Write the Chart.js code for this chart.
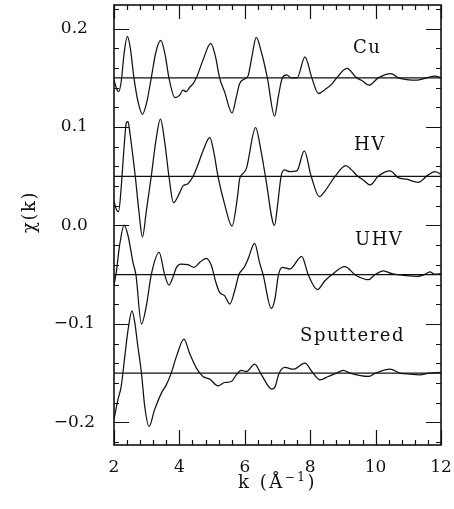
<!DOCTYPE html>
<html>
<head>
<meta charset="utf-8">
<script src="https://cdn.jsdelivr.net/npm/chart.js@4/dist/chart.umd.min.js"></script>
<style>
  html, body { margin: 0; padding: 0; background: #fff; }
  #wrap { width: 454px; height: 509px; }
</style>
</head>
<body>
<div id="wrap"><canvas id="chart" width="454" height="509"></canvas></div>
<script>
// EXAFS oscillations chi(k) for four samples, each shifted by a constant offset.
const sampleNames = ['Cu', 'HV', 'UHV', 'Sputtered'];
const sampleOffsets = [0.15, 0.05, -0.05, -0.15];

const kCu = [2.0, 2.07, 2.14, 2.22, 2.31, 2.41, 2.5, 2.61, 2.74, 2.87, 3.0, 3.14, 3.28, 3.43, 3.56, 3.68,
  3.86, 4.01, 4.11, 4.21, 4.31, 4.42, 4.52, 4.72, 4.96, 5.1, 5.23, 5.38, 5.61, 5.75, 5.84, 6.0, 6.1, 6.22,
  6.35, 6.5, 6.69, 6.91, 7.03, 7.15, 7.28, 7.42, 7.6, 7.84, 8.05, 8.25, 8.45, 8.66, 8.81, 9.12, 9.42, 9.59,
  9.8, 10.08, 10.47, 10.69, 10.95, 11.25, 11.56, 11.82, 12.0];
const chiCu = [-0.002, -0.010, -0.014, -0.004, 0.025, 0.042, 0.030, 0.0, -0.025, -0.037, -0.025, 0.0, 0.026,
  0.038, 0.024, 0.0, -0.020, -0.0176, -0.0125, -0.014, -0.0098, -0.0058, 0.0, 0.018, 0.035, 0.022, 0.0,
  -0.014, -0.0356, -0.018, -0.006, -0.001, 0.002, 0.022, 0.041, 0.027, 0.0, -0.039, -0.018, 0.0, 0.003,
  0.0, 0.0, 0.0213, 0.0, -0.0159, -0.012, -0.0064, 0.0, 0.0095, 0.0, -0.003, -0.0075, 0.0, 0.0044, 0.0,
  -0.0017, -0.0024, 0.0, 0.0017, 0.0];

const kHV = [2.0, 2.07, 2.14, 2.22, 2.30, 2.38, 2.43, 2.49, 2.65, 2.76, 2.87, 2.99, 3.14, 3.28, 3.42, 3.55,
  3.68, 3.82, 4.01, 4.11, 4.26, 4.42, 4.57, 4.72, 4.93, 5.05, 5.18, 5.38, 5.61, 5.78, 5.84, 5.95, 6.05, 6.33,
  6.5, 6.63, 6.91, 7.0, 7.11, 7.21, 7.38, 7.59, 7.82, 8.03, 8.28, 8.45, 8.76, 9.09, 9.25, 9.45, 9.62, 9.83,
  10.08, 10.44, 10.69, 10.95, 11.3, 11.61, 11.82, 12.0];
const chiHV = [-0.025, -0.0335, -0.036, -0.0115, 0.026, 0.0545, 0.0555, 0.043, 0.0, -0.035, -0.0617, -0.035,
  0.0, 0.036, 0.058, 0.035, 0.0, -0.0268, -0.0166, -0.0098, -0.0075, 0.0, 0.012, 0.0257, 0.0393, 0.025, 0.0,
  -0.028, -0.0505, -0.02, -0.003, 0.003, 0.008, 0.0495, 0.025, 0.0, -0.0498, -0.03, 0.0, 0.0064, 0.0047,
  0.0054, 0.0257, 0.0, -0.0207, -0.015, 0.0, 0.0108, 0.007, 0.0, -0.0037, -0.0088, 0.0, 0.0054, -0.0014,
  -0.003, -0.0061, 0.0014, 0.0047, 0.002];

const kUHV = [2.0, 2.07, 2.17, 2.31, 2.43, 2.58, 2.67, 2.84, 2.99, 3.14, 3.38, 3.55, 3.68, 3.80, 3.91, 4.04,
  4.26, 4.45, 4.62, 4.82, 4.98, 5.10, 5.23, 5.38, 5.54, 5.69, 5.82, 5.98, 6.10, 6.30, 6.45, 6.56, 6.81, 6.92,
  7.03, 7.15, 7.38, 7.74, 7.94, 8.22, 8.45, 8.66, 9.06, 9.37, 9.52, 9.78, 9.98, 10.24, 10.5, 10.95, 11.26,
  11.55, 11.66, 11.8, 12.0];
const chiUHV = [-0.0105, 0.0024, 0.0295, 0.0505, 0.0396, 0.0125, 0.0, -0.0501, -0.0315, 0.0, 0.0227, 0.0,
  -0.0105, -0.0027, 0.0075, 0.0108, 0.0102, 0.0075, 0.0125, 0.0166, 0.0091, -0.006, -0.018, -0.0213, -0.0298,
  -0.0163, 0.0, 0.0075, 0.0159, 0.0318, 0.0125, 0.0, -0.0342, -0.0247, 0.0, 0.0075, 0.0058, 0.0186, 0.0,
  -0.0152, -0.0061, 0.0, 0.0081, 0.0, -0.0027, -0.0051, 0.0, 0.004, 0.001, -0.001, -0.0017, 0.001, 0.003,
  0.0005, 0.001];

const kSput = [2.0, 2.12, 2.22, 2.33, 2.43, 2.55, 2.63, 2.73, 2.84, 2.94, 3.07, 3.24, 3.45, 3.60, 3.75, 3.91,
  4.14, 4.31, 4.52, 4.72, 4.93, 5.18, 5.38, 5.59, 5.74, 5.89, 6.05, 6.30, 6.51, 6.83, 6.92, 7.05, 7.23, 7.48,
  7.84, 8.05, 8.30, 8.55, 8.8, 9.01, 9.22, 9.78, 10.0, 10.44, 10.75, 11.05, 11.35, 11.65, 12.0];
const chiSput = [-0.047, -0.027, -0.0135, 0.017, 0.044, 0.0633, 0.0525, 0.0271, 0.0, -0.0339, -0.0542,
  -0.0373, -0.0203, -0.0119, 0.0, 0.017, 0.0346, 0.0203, 0.0051, -0.0034, -0.0061, -0.0129, -0.0095, -0.0085,
  -0.0017, 0.0027, 0.0017, 0.0091, -0.0017, -0.0163, -0.0142, 0.0, 0.0058, 0.004, 0.0102, 0.0017, -0.0068,
  -0.0034, 0.0, 0.0027, 0.0, -0.0034, 0.0, 0.004, 0.0, -0.001, -0.0017, 0.0, 0.0007];

// Axis ticks and labels
const kRange = [2, 12];
const chiRange = [-0.223, 0.224];
const kTicks = [2, 4, 6, 8, 10, 12];
const chiTicks = [-0.2, -0.1, 0.0, 0.1, 0.2];
const chiTickLabels = ['\u22120.2', '\u22120.1', '0.0', '0.1', '0.2'];

const kSeries = [kCu, kHV, kUHV, kSput];
const chiSeries = [chiCu, chiHV, chiUHV, chiSput];

const INK = '#111';
const FONT = '"DejaVu Serif", serif';

const datasets = [];
sampleNames.forEach((name, i) => {
  const off = sampleOffsets[i];
  datasets.push({
    label: name,
    data: kSeries[i].map((k, j) => ({ x: k, y: chiSeries[i][j] + off })),
    borderColor: INK,
    borderWidth: 1.25,
    pointRadius: 0,
    cubicInterpolationMode: 'monotone',
    fill: false
  });
  datasets.push({
    label: name + ' baseline',
    data: kRange.map(k => ({ x: k, y: off })),
    borderColor: INK,
    borderWidth: 1.3,
    pointRadius: 0,
    tension: 0,
    fill: false
  });
});

// Keep the plot box fixed: no extra room reserved for edge tick labels
const fixScale = size => s => {
  if (s.isHorizontal()) s.height = size; else s.width = size;
  s.paddingTop = s.paddingBottom = s.paddingLeft = s.paddingRight = 0;
};

// Boxed frame with inward major/minor ticks on all four sides
const frameTicks = {
  id: 'frameTicks',
  afterDatasetsDraw(chart, args, o) {
    const { ctx, chartArea: a, scales: { x, y } } = chart;
    ctx.save();
    ctx.strokeStyle = INK;
    ctx.lineWidth = 1.2;
    ctx.beginPath();
    const nx = Math.round((kRange[1] - kRange[0]) / o.kMinor);
    for (let i = 0; i <= nx; i++) {
      const v = kRange[0] + i * o.kMinor;
      const px = Math.round(x.getPixelForValue(v)) + 0.5;
      const major = i % o.kPerMajor === 0;
      const lb = major ? o.majorLen : o.minorLen;
      const lt = major ? o.majorLenTop : o.minorLen;
      ctx.moveTo(px, a.bottom); ctx.lineTo(px, a.bottom - lb);
      ctx.moveTo(px, a.top); ctx.lineTo(px, a.top + lt);
    }
    const ny = Math.round(o.chiMinorMax / o.chiMinor);
    for (let i = -ny; i <= ny; i++) {
      const v = i * o.chiMinor;
      const py = Math.round(y.getPixelForValue(v)) + 0.5;
      const major = i % o.chiPerMajor === 0;
      const l = major ? o.majorLen : o.minorLen;
      ctx.moveTo(a.left, py); ctx.lineTo(a.left + l, py);
      ctx.moveTo(a.right, py); ctx.lineTo(a.right - l, py);
    }
    ctx.stroke();
    ctx.lineWidth = 1.6;
    ctx.strokeRect(a.left, a.top, a.right - a.left, a.bottom - a.top);
    ctx.restore();
  }
};

// Sample names and axis titles
const textLayer = {
  id: 'textLayer',
  afterDraw(chart, args, o) {
    const { ctx, chartArea: a, scales: { x, y } } = chart;
    ctx.save();
    ctx.fillStyle = INK;
    ctx.font = '18px ' + FONT;
    ctx.letterSpacing = '1.5px';
    ctx.textAlign = 'left';
    ctx.textBaseline = 'alphabetic';
    o.names.forEach(n => {
      ctx.fillText(n.text, x.getPixelForValue(n.k), y.getPixelForValue(n.chi));
    });

    // x title: k (Å^-1)
    ctx.letterSpacing = '2.5px';
    const cx = (a.left + a.right) / 2;
    const ty = a.bottom + o.xTitleGap;
    const p1 = 'k (\u00C5', p2 = '\u22121', p3 = ')';
    ctx.font = '18px ' + FONT;
    const w1 = ctx.measureText(p1).width, w3 = ctx.measureText(p3).width;
    ctx.font = '12px ' + FONT;
    const w2 = ctx.measureText(p2).width;
    let sx = cx - (w1 + w2 + w3) / 2;
    ctx.font = '18px ' + FONT;
    ctx.fillText(p1, sx, ty);
    sx += w1;
    ctx.font = '12px ' + FONT;
    ctx.fillText(p2, sx, ty - 7);
    sx += w2;
    ctx.font = '18px ' + FONT;
    ctx.fillText(p3, sx, ty);

    // y title: chi(k)
    ctx.letterSpacing = '1.5px';
    ctx.font = '18px ' + FONT;
    ctx.translate(o.yTitleX, o.yTitleY);
    ctx.rotate(-Math.PI / 2);
    ctx.textAlign = 'center';
    ctx.textBaseline = 'middle';
    ctx.fillText('\u03C7(k)', 0, 0);
    ctx.restore();
  }
};

new Chart(document.getElementById('chart'), {
  type: 'line',
  data: { datasets },
  plugins: [frameTicks, textLayer],
  options: {
    responsive: false,
    animation: false,
    devicePixelRatio: 1,
    layout: { padding: { top: 5, right: 13, left: 0, bottom: 0 } },
    plugins: {
      legend: { display: false },
      tooltip: { enabled: false },
      frameTicks: {
        kMinor: 0.4, kPerMajor: 5, chiMinor: 0.02, chiPerMajor: 5, chiMinorMax: 0.22,
        majorLen: 15, majorLenTop: 14, minorLen: 5
      },
      textLayer: {
        names: [
          { text: sampleNames[0], k: 9.31, chi: 0.1755 },
          { text: sampleNames[1], k: 9.34, chi: 0.0769 },
          { text: sampleNames[2], k: 9.37, chi: -0.0196 },
          { text: sampleNames[3], k: 7.69, chi: -0.1172 }
        ],
        xTitleGap: 43,
        yTitleX: 30,
        yTitleY: 212
      }
    },
    scales: {
      x: {
        type: 'linear',
        min: kRange[0], max: kRange[1],
        grid: { display: false, drawTicks: false },
        border: { display: false },
        afterBuildTicks: s => { s.ticks = kTicks.map(v => ({ value: v })); },
        afterFit: fixScale(64),
        ticks: {
          color: INK, padding: 12, maxRotation: 0, autoSkip: false,
          font: { family: FONT, size: 17 },
          callback: v => String(v)
        }
      },
      y: {
        type: 'linear',
        min: chiRange[0], max: chiRange[1],
        grid: { display: false, drawTicks: false },
        border: { display: false },
        afterBuildTicks: s => { s.ticks = chiTicks.map(v => ({ value: v })); },
        afterFit: fixScale(114),
        ticks: {
          color: INK, padding: 19, crossAlign: 'center', autoSkip: false,
          font: { family: FONT, size: 17 },
          callback: v => {
            const i = chiTicks.findIndex(t => Math.abs(t - v) < 1e-9);
            return i >= 0 ? chiTickLabels[i] : '';
          }
        }
      }
    }
  }
});
</script>
</body>
</html>
